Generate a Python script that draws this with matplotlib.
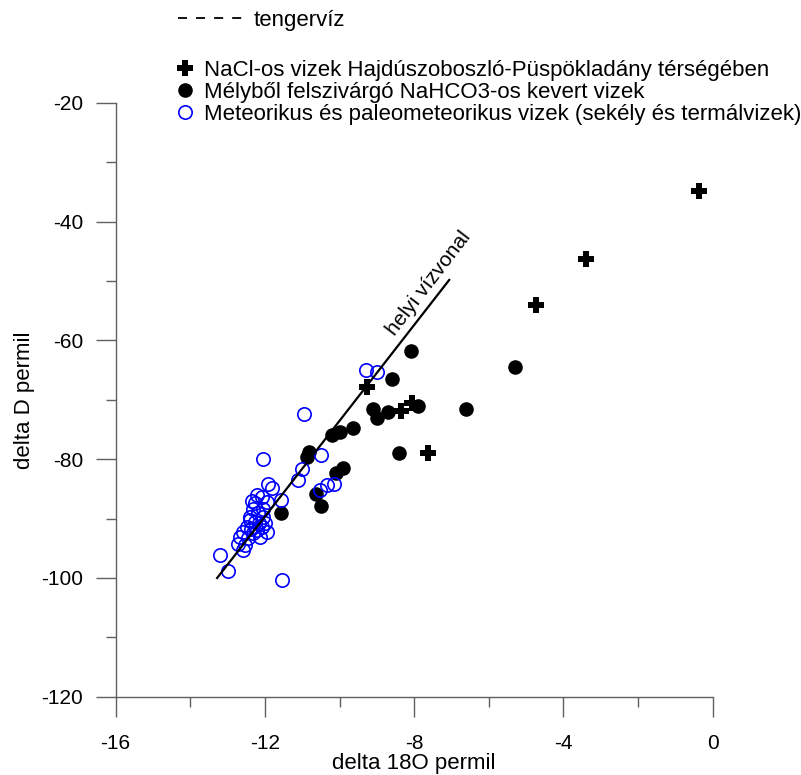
import matplotlib.pyplot as plt
from matplotlib.lines import Line2D
from matplotlib.ticker import MultipleLocator

plt.rcParams['font.family'] = ['Liberation Sans', 'DejaVu Sans']
plt.rcParams['axes.unicode_minus'] = False

# NaCl-os vizek Hajdúszoboszló-Püspökladány térségében
nacl_o18 = [-0.36, -3.39, -4.74, -9.27, -8.36, -8.07, -7.64]
nacl_d = [-34.8, -46.2, -54.0, -67.8, -71.8, -70.6, -79.0]

# Mélyből felszivárgó NaHCO3-os kevert vizek
mely_o18 = [-8.09, -5.30, -8.60, -9.11, -9.00, -8.69, -7.91, -6.60, -9.65, -8.40,
            -9.99, -10.21, -10.82, -10.86, -9.90, -10.10, -10.63, -10.51, -11.58]
mely_d = [-61.7, -64.5, -66.5, -71.6, -73.1, -72.0, -71.0, -71.6, -74.7, -79.0,
          -75.4, -75.9, -78.8, -79.7, -81.4, -82.3, -85.8, -87.9, -89.0]

# Meteorikus és paleometeorikus vizek
met_o18 = [-9.29, -8.99, -10.94, -10.50, -11.01, -11.11, -10.52, -10.34, -10.15,
           -11.57, -12.04, -11.91, -11.80,
           -12.22, -12.09, -12.27, -11.95, -12.31, -12.04, -12.18, -12.40, -12.04,
           -12.27, -12.49, -12.09, -11.95, -12.58, -12.31, -12.67, -12.45, -12.13,
           -12.71, -12.53, -12.58, -12.35, -12.15, -12.00, -12.40, -12.20, -12.36,
           -13.20, -12.98, -11.55]
met_d = [-65.0, -65.3, -72.3, -79.3, -81.6, -83.5, -85.2, -84.4, -84.2,
         -86.9, -79.9, -84.2, -84.9,
         -86.0, -86.3, -87.4, -87.2, -88.3, -88.3, -89.1, -89.7, -89.7,
         -90.5, -91.4, -91.4, -92.2, -92.2, -92.5, -93.1, -93.3, -93.1,
         -94.2, -94.5, -95.3, -87.0, -90.8, -90.8, -90.3, -92.0, -91.8,
         -96.2, -98.8, -100.3]

# helyi vízvonal (end points)
lmwl_o18 = [-13.28, -7.06]
lmwl_d = [-100.0, -49.8]

fig = plt.figure(figsize=(8.01, 7.75), dpi=100)
ax = fig.add_axes([0.1444, 0.1010, 0.7453, 0.7661])

ax.plot(nacl_o18, nacl_d, ls='none', marker='P', ms=12, mfc='k', mec='k', mew=0, zorder=3)
ax.plot(mely_o18, mely_d, ls='none', marker='o', ms=10.5, mfc='k', mec='k', mew=0, zorder=4)
ax.plot(met_o18, met_d, ls='none', marker='o', ms=9.6, mfc='none', mec='#0000ff', mew=1.2, zorder=5)
ax.plot(lmwl_o18, lmwl_d, color='k', lw=1.6, zorder=6)
ax.text(-7.62, -50.4, 'helyi vízvonal', rotation=52.5, rotation_mode='anchor',
        ha='center', va='center', fontsize=15)

ax.set_xlim(-16, 0)
ax.set_ylim(-120, -20)
ax.xaxis.set_major_locator(MultipleLocator(4))
ax.xaxis.set_minor_locator(MultipleLocator(2))
ax.yaxis.set_major_locator(MultipleLocator(20))
ax.yaxis.set_minor_locator(MultipleLocator(10))
for s in ['top', 'right']:
    ax.spines[s].set_visible(False)
for s in ['left', 'bottom']:
    ax.spines[s].set_color('#606060')
    ax.spines[s].set_linewidth(1.0)
ax.tick_params(which='major', direction='out', length=14.5, width=1.0, color='#606060',
               labelsize=15, pad=9)
ax.tick_params(axis='x', which='major', pad=12)
ax.tick_params(which='minor', direction='out', length=7.5, width=1.0, color='#606060')
ax.set_xlabel('delta 18O permil', fontsize=16, labelpad=0)
ax.set_ylabel('delta D permil', fontsize=16, labelpad=4)

h_sea = Line2D([], [], color='k', ls=(0, (5, 5)), lw=1.3)
leg1 = fig.legend([h_sea], ['tengervíz'], loc='center left', bbox_to_anchor=(0.222, 0.974),
                  frameon=False, fontsize=16, handlelength=2.9, handletextpad=0.5,
                  borderpad=0, borderaxespad=0)
h1 = Line2D([], [], ls='none', marker='P', ms=12, mfc='k', mec='k', mew=0)
h2 = Line2D([], [], ls='none', marker='o', ms=10.5, mfc='k', mec='k', mew=0)
h3 = Line2D([], [], ls='none', marker='o', ms=9.6, mfc='none', mec='#0000ff', mew=1.2)
leg2 = fig.legend([h1, h2, h3],
                  ['NaCl-os vizek Hajdúszoboszló-Püspökladány térségében',
                   'Mélyből felszivárgó NaHCO3-os kevert vizek',
                   'Meteorikus és paleometeorikus vizek (sekély és termálvizek)'],
                  loc='upper left', bbox_to_anchor=(0.220, 0.923),
                  frameon=False, fontsize=16, handlelength=0.8, handletextpad=0.45,
                  labelspacing=0.05, borderpad=0, borderaxespad=0)

fig.savefig('out.png', dpi=100)
